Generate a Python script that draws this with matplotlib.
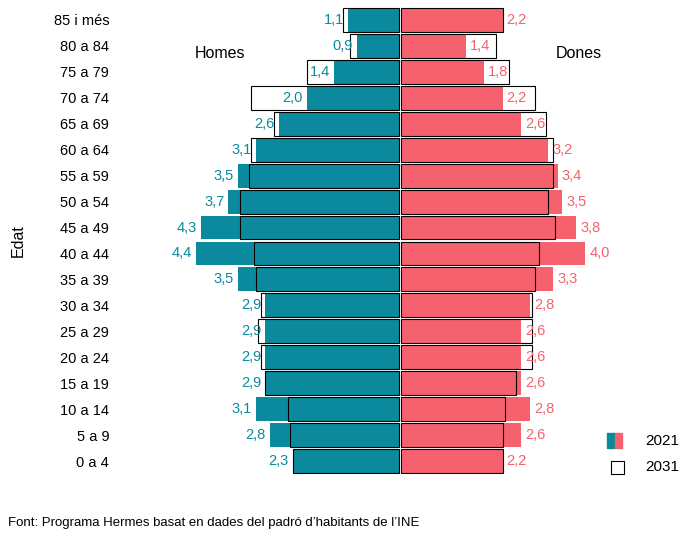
import matplotlib
matplotlib.use("Agg")
import matplotlib.pyplot as plt
from matplotlib.patches import Rectangle

plt.rcParams["font.family"] = ["Liberation Sans", "DejaVu Sans"]

TEAL = "#0a8a9c"
PINK = "#f5626d"

ages = ["0 a 4", "5 a 9", "10 a 14", "15 a 19", "20 a 24", "25 a 29", "30 a 34",
        "35 a 39", "40 a 44", "45 a 49", "50 a 54", "55 a 59", "60 a 64",
        "65 a 69", "70 a 74", "75 a 79", "80 a 84", "85 i més"]
men_2021 = [2.3, 2.8, 3.1, 2.9, 2.9, 2.9, 2.9, 3.5, 4.4, 4.3, 3.7, 3.5, 3.1, 2.6, 2.0, 1.4, 0.9, 1.1]
women_2021 = [2.2, 2.6, 2.8, 2.6, 2.6, 2.6, 2.8, 3.3, 4.0, 3.8, 3.5, 3.4, 3.2, 2.6, 2.2, 1.8, 1.4, 2.2]
men_2031 = [2.3, 2.35, 2.4, 2.9, 3.0, 3.05, 3.0, 3.1, 3.15, 3.45, 3.45, 3.25, 3.2, 2.7, 3.2, 2.0, 1.05, 1.2]
women_2031 = [2.2, 2.2, 2.25, 2.5, 2.85, 2.85, 2.85, 2.9, 3.0, 3.35, 3.2, 3.3, 3.3, 3.15, 2.9, 2.35, 2.05, 2.2]

def fmt(v):
    return f"{v:.1f}".replace(".", ",")

fig = plt.figure(figsize=(6.95, 5.38), dpi=100)
ax = fig.add_axes([130 / 695, 1 - 474 / 538, 470 / 695, 467 / 538])

y = list(range(len(ages)))
h = 0.92
ax.barh(y, [-v for v in men_2021], height=h, color=TEAL, left=-0.03)
ax.barh(y, women_2021, height=h, color=PINK, left=0.03)
ax.barh(y, [-v for v in men_2031], height=h, left=-0.03, facecolor="none", edgecolor="black", linewidth=0.8)
ax.barh(y, women_2031, height=h, left=0.03, facecolor="none", edgecolor="black", linewidth=0.8)

for i in y:
    ax.text(-men_2021[i] - 0.12, i, fmt(men_2021[i]), ha="right", va="center", color=TEAL, fontsize=10.5)
    ax.text(women_2021[i] + 0.12, i, fmt(women_2021[i]), ha="left", va="center", color=PINK, fontsize=10.5)

ax.set_xlim(-5.87, 4.35)
ax.set_ylim(-0.5, 17.5)
ax.set_yticks(y)
ax.set_yticklabels(ages, fontsize=10.5)
ax.tick_params(axis="y", length=0, pad=15)
ax.set_xticks([])
for s in ax.spines.values():
    s.set_visible(False)
ax.set_ylabel("Edat", fontsize=11.5, labelpad=20)

fig.text(220 / 695, 1 - 53 / 538, "Homes", ha="center", va="center", fontsize=11.5)
fig.text(579 / 695, 1 - 53 / 538, "Dones", ha="center", va="center", fontsize=11.5)

# legend
w, hh = 15 / 695, 15 / 538
x0 = 607 / 695
fig.patches.append(Rectangle((x0, 1 - 448 / 538), w / 2, hh, transform=fig.transFigure, color=TEAL))
fig.patches.append(Rectangle((x0 + w / 2, 1 - 448 / 538), w / 2, hh, transform=fig.transFigure, color=PINK))
fig.patches.append(Rectangle((x0 + w / 2 - 0.5 * w / 2, 1 - 474 / 538), w * 0.9, hh * 0.9, transform=fig.transFigure,
                             facecolor="white", edgecolor="black", linewidth=0.8))
fig.text(645 / 695, 1 - 441 / 538, "2021", va="center", fontsize=11)
fig.text(645 / 695, 1 - 467 / 538, "2031", va="center", fontsize=11)

fig.text(8 / 695, 1 - 523 / 538, "Font: Programa Hermes basat en dades del padró d’habitants de l’INE",
         va="center", fontsize=9.5)

fig.savefig("out.png", dpi=100)
